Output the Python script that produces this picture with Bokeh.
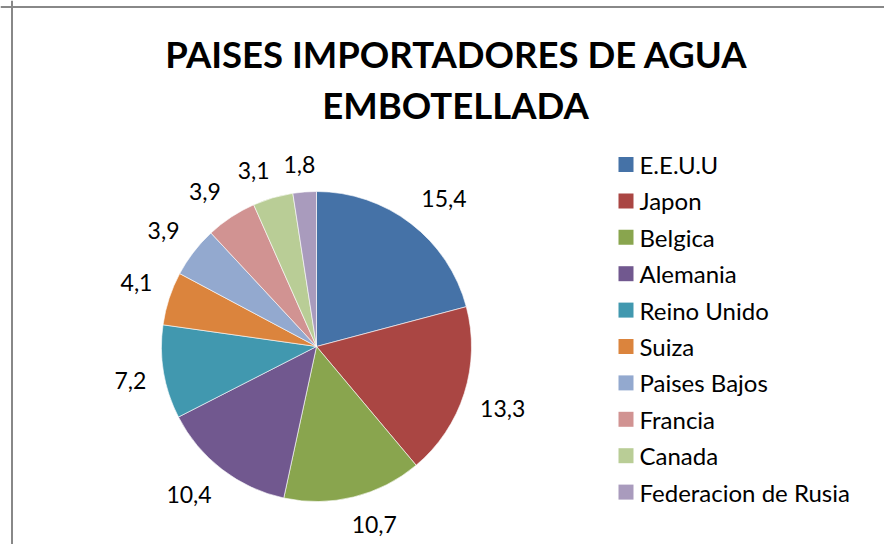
import math
from bokeh.plotting import figure
from bokeh.models import Range1d, Span, ColumnDataSource
from bokeh.core.properties import value
from bokeh.embed import file_html
from bokeh.resources import INLINE

# ---- data ----
countries = ["E.E.U.U", "Japon", "Belgica", "Alemania", "Reino Unido", "Suiza",
             "Paises Bajos", "Francia", "Canada", "Federacion de Rusia"]
values = [15.4, 13.3, 10.7, 10.4, 7.2, 4.1, 3.9, 3.9, 3.1, 1.8]
value_labels = ["15,4", "13,3", "10,7", "10,4", "7,2", "4,1", "3,9", "3,9", "3,1", "1,8"]
colors = ["#4572A7", "#AA4643", "#89A54E", "#71588F", "#4198AF", "#DB843D",
          "#93A9CF", "#D19392", "#B9CD96", "#A99BBD"]
title_lines = ["PAISES IMPORTADORES DE AGUA", "EMBOTELLADA"]

# ---- layout ----
W, H = 884, 544
CX, CY, R = 316, H - 346, 155
GAP, HALF_H = 16, 12
FONT = "Lato"

p = figure(width=W, height=H, x_range=Range1d(0, W), y_range=Range1d(0, H),
           output_backend="svg", toolbar_location=None, min_border=0)
p.axis.visible = False
p.grid.visible = False
p.outline_line_color = None
p.background_fill_color = "white"
p.border_fill_color = "white"

# chart-area border (left and top visible)
p.add_layout(Span(location=11.5, dimension="height", line_color="#888888", line_width=2))
p.add_layout(Span(location=H - 6.5, dimension="width", line_color="#888888", line_width=2))


def clip(t):
    return max(-1.0, min(1.0, t))


# pie
total = sum(values)
starts, ends, lx, ly = [], [], [], []
cum = 0.0
for v, lab in zip(values, value_labels):
    a0 = cum / total * 2 * math.pi
    a1 = (cum + v) / total * 2 * math.pi
    starts.append(math.pi / 2 - a0)
    ends.append(math.pi / 2 - a1)
    mid = (a0 + a1) / 2
    s, c = math.sin(mid), math.cos(mid)
    half_w = 5.8 * len(lab)
    lx.append(CX + (R + GAP) * s + half_w * clip(3 * s))
    ly.append(CY + (R + GAP) * c + HALF_H * clip(3 * c))
    cum += v

src = ColumnDataSource(dict(start=starts, end=ends, color=colors, lx=lx, ly=ly,
                            lab=value_labels, name=countries))
p.wedge(x=CX, y=CY, radius=R, start_angle="start", end_angle="end", direction="clock",
        fill_color="color", line_color="white", line_width=0.6, source=src)

p.text(x="lx", y="ly", text="lab", source=src, text_font=value(FONT),
       text_font_size=value("23px"), text_align="center", text_baseline="middle",
       text_color="#000000")

# title
p.text(x=[456, 455], y=[H - 53, H - 104], text=title_lines, text_font=value(FONT),
       text_font_style="bold", text_font_size=value("36.5px"), text_align="center",
       text_baseline="middle", text_color="#000000")

# legend
LEG_X, LEG_Y0, LEG_DY = 625.5, H - 164, 36.4
leg_y = [LEG_Y0 - i * LEG_DY for i in range(len(countries))]
leg_src = ColumnDataSource(dict(x=[LEG_X] * len(countries), tx=[LEG_X + 13.5] * len(countries),
                                y=leg_y, color=colors, name=countries))
p.scatter(x="x", y="y", marker="square", size=15, fill_color="color", line_color=None,
          source=leg_src)
p.text(x="tx", y="y", text="name", source=leg_src, text_font=value(FONT),
       text_font_size=value("24px"), text_align="left", text_baseline="middle",
       text_color="#000000")

open("out.html", "w").write(file_html(p, INLINE))
